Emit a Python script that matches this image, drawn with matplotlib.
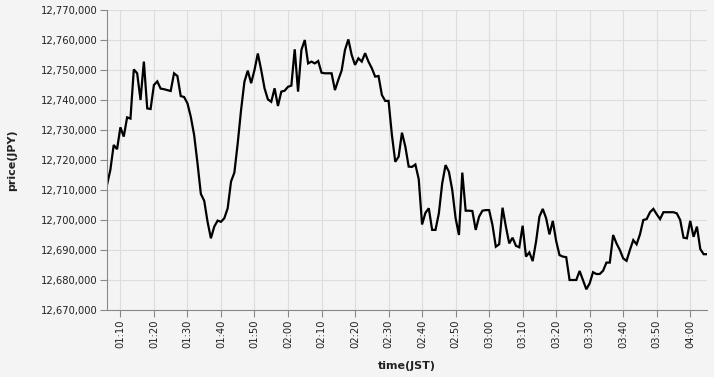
import matplotlib
matplotlib.use("Agg")
import matplotlib.pyplot as plt
import matplotlib.dates as mdates
import matplotlib.ticker as mticker
import pandas as pd

# one reading per minute, 01:06 .. 04:05 JST
start_time = "2024-01-01 01:06"
price = [
    12711700, 12716700, 12725000, 12723600, 12730900, 12727800, 12734200, 12733800,
    12750200, 12748900, 12740000, 12752800, 12737200, 12737000, 12745000, 12746200,
    12743800, 12743600, 12743300, 12743000, 12748900, 12748000, 12741300, 12741000,
    12738900, 12734400, 12728300, 12718900, 12708700, 12706400, 12699400, 12693900,
    12697800, 12699800, 12699400, 12700600, 12703900, 12712800, 12715800, 12725600,
    12736700, 12746100, 12749800, 12745600, 12750000, 12755500, 12750000, 12743900,
    12740200, 12739400, 12743900, 12738000, 12742800, 12743100, 12744400, 12744800,
    12756900, 12742800, 12756700, 12760000, 12752200, 12752800, 12752200, 12753000,
    12749100, 12748900, 12748900, 12748900, 12743300, 12746700, 12749800, 12756700,
    12760200, 12755000, 12751700, 12753900, 12752800, 12755600, 12752800, 12750600,
    12747800, 12748000, 12741700, 12739700, 12739700, 12728300, 12719400, 12721100,
    12729100, 12724500, 12717800, 12717700, 12718500, 12713600, 12698500, 12702400,
    12703900, 12696700, 12696700, 12702200, 12712200, 12718300, 12716100, 12710000,
    12700600, 12695000, 12715800, 12703100, 12703100, 12703000, 12696700, 12701100,
    12703100, 12703300, 12703300, 12698300, 12691100, 12691900, 12704100, 12697800,
    12692200, 12694100, 12691400, 12690900, 12698100, 12687800, 12689200, 12686300,
    12692800, 12701100, 12703700, 12700600, 12695200, 12699700, 12693000, 12688300,
    12687800, 12687600, 12680000, 12680000, 12680000, 12683000, 12680000, 12676900,
    12678900, 12682600, 12682000, 12682000, 12683100, 12685800, 12685800, 12695000,
    12692200, 12690000, 12687200, 12686400, 12690000, 12693300, 12691900, 12695200,
    12700000, 12700300, 12702600, 12703700, 12701900, 12700300, 12702600, 12702600,
    12702600, 12702600, 12702200, 12700000, 12694100, 12693900, 12699700, 12694400,
    12697800, 12690300, 12688600, 12688600,
]
y_min, y_max = 12670000, 12770000

times = pd.date_range(start_time, periods=len(price), freq="min")

bg = "#f4f4f4"
grid_c = "#dddddd"
axis_c = "#888888"
txt_c = "#222222"

fig = plt.figure(figsize=(7.14, 3.77), dpi=100, facecolor=bg)
ax = fig.add_axes([107 / 714, 1 - 310 / 377, 600 / 714, 300 / 377])
ax.set_facecolor(bg)

ax.plot(times, price, color="black", lw=1.6, solid_joinstyle="miter")

ax.set_xlim(times[0], times[-1])
ax.set_ylim(y_min, y_max)

ax.xaxis.set_major_locator(mdates.MinuteLocator(byminute=range(0, 60, 10)))
ax.xaxis.set_major_formatter(mdates.DateFormatter("%H:%M"))
ax.yaxis.set_major_locator(mticker.MultipleLocator(10000))
ax.yaxis.set_major_formatter(mticker.StrMethodFormatter("{x:,.0f}"))

ax.grid(True, color=grid_c, lw=0.8)
ax.set_axisbelow(True)
for side in ["top", "right"]:
    ax.spines[side].set_visible(False)
for side in ["left", "bottom"]:
    ax.spines[side].set_color(axis_c)
    ax.spines[side].set_linewidth(0.8)

ax.tick_params(axis="both", colors=axis_c, length=5, width=0.8,
               labelsize=7.2, labelcolor=txt_c, pad=2)
plt.setp(ax.get_xticklabels(), rotation=90, va="top", ha="center")

fig.text(407 / 714, 1 - 366 / 377, "time(JST)", ha="center", va="center",
         fontsize=8, fontweight="bold", color=txt_c)
fig.text(12 / 714, 1 - 160 / 377, "price(JPY)", ha="center", va="center",
         rotation=90, fontsize=8, fontweight="bold", color=txt_c)

fig.savefig("out.png", dpi=100, facecolor=bg)
